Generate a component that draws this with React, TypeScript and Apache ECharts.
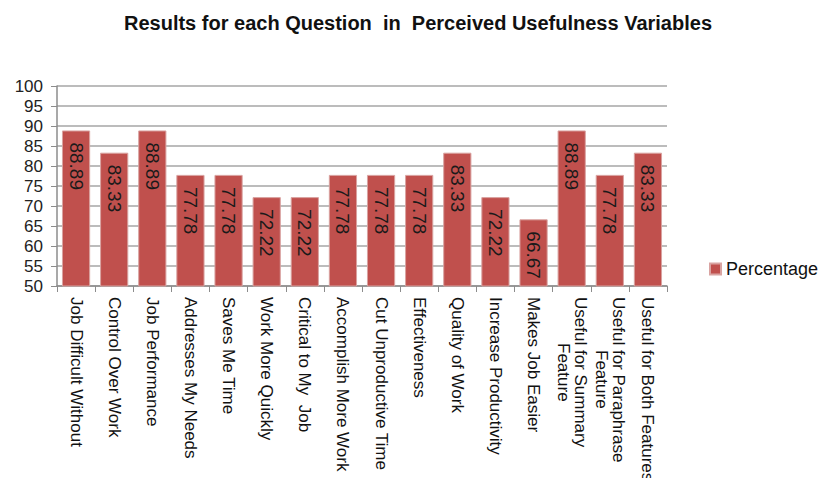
import React, { useEffect, useRef } from "react";
import * as echarts from "echarts";

const categories: string[] = [
  "Job Difficult Without",
  "Control Over Work",
  "Job Performance",
  "Addresses My Needs",
  "Saves Me Time",
  "Work More Quickly",
  "Critical to My  Job",
  "Accomplish More Work",
  "Cut Unproductive Time",
  "Effectiveness",
  "Quality of Work",
  "Increase Productivity",
  "Makes Job Easier",
  "Useful for Summary\nFeature",
  "Useful for Paraphrase\nFeature",
  "Useful for Both Features",
];

const percentage: number[] = [
  88.89, 83.33, 88.89, 77.78, 77.78, 72.22, 72.22, 77.78, 77.78, 77.78, 83.33,
  72.22, 66.67, 88.89, 77.78, 83.33,
];

const yTicks = { min: 50, max: 100, interval: 5 };

const FONT = "'Liberation Sans', Arial, sans-serif";

function measure(text: string, size: number): number {
  const c = document.createElement("canvas").getContext("2d");
  if (!c) return text.length * size * 0.5;
  c.font = `${size}px ${FONT}`;
  return c.measureText(text).width;
}

export default function App() {
  const ref = useRef<HTMLDivElement>(null);
  useEffect(() => {
    if (!ref.current) return;
    const chart = echarts.init(ref.current, undefined, { renderer: "svg" });
    const labelSize = 17;
    chart.setOption({
      animation: false,
      backgroundColor: "#ffffff",
      title: {
        text: "Results for each Question  in  Perceived Usefulness Variables",
        left: 124,
        top: 13,
        padding: 0,
        textStyle: {
          fontFamily: FONT,
          fontSize: 20,
          fontWeight: "bold",
          color: "#111",
        },
      },
      legend: {
        data: ["Percentage"],
        left: 709,
        top: 260,
        padding: 0,
        orient: "vertical",
        itemWidth: 11,
        itemHeight: 11,
        itemGap: 4,
        icon: "rect",
        textStyle: { fontFamily: FONT, fontSize: 18, color: "#111" },
      },
      grid: {
        left: 57,
        width: 610,
        top: 86,
        height: 200,
        containLabel: false,
        outerBoundsMode: "none",
      },
      xAxis: {
        type: "category",
        data: categories,
        boundaryGap: true,
        axisLine: { lineStyle: { color: "#8c8c8c", width: 1.5 } },
        axisTick: { show: true, length: 6, alignWithLabel: false, lineStyle: { color: "#8c8c8c" } },
        axisLabel: {
          interval: 0,
          rotate: -90,
          margin: 11,
          fontFamily: FONT,
          fontSize: labelSize,
          color: "#111",
          formatter: (v: string) => {
            const lines = v.split("\n");
            if (lines.length === 1) return v;
            const w = Math.max(...lines.map((l) => measure(l, labelSize)));
            return lines
              .map((l) => {
                const pad = Math.max(0, (w - measure(l, labelSize)) / 2);
                return pad > 0.5 ? `{p${Math.round(pad)}| }{t|${l}}` : `{t|${l}}`;
              })
              .join("\n");
          },
          rich: (() => {
            const r: Record<string, any> = {
              t: { fontFamily: FONT, fontSize: labelSize, color: "#111" },
            };
            for (let i = 1; i <= 120; i++) {
              r["p" + i] = { width: i, fontFamily: FONT, fontSize: labelSize };
            }
            return r;
          })(),
        },
      },
      yAxis: {
        type: "value",
        min: yTicks.min,
        max: yTicks.max,
        interval: yTicks.interval,
        axisLine: { show: true, lineStyle: { color: "#8c8c8c", width: 1.5 } },
        axisTick: { show: true, length: 6, lineStyle: { color: "#8c8c8c" } },
        axisLabel: {
          margin: 14,
          fontFamily: FONT,
          fontSize: 17,
          color: "#222",
        },
        splitLine: { show: true, lineStyle: { color: "#a6a6a6", width: 1.5 } },
      },
      series: [
        {
          name: "Percentage",
          type: "bar",
          data: percentage,
          barCategoryGap: "26%",
          itemStyle: { color: "#C0504D", borderColor: "#d9a3a1", borderWidth: 1 },
          label: {
            show: true,
            position: "insideTop",
            distance: 12,
            rotate: -90,
            align: "left",
            verticalAlign: "middle",
            fontFamily: FONT,
            fontSize: 19,
            color: "#1a1a1a",
            formatter: (p: any) => Number(p.value).toFixed(2),
          },
        },
      ],
    });
    return () => chart.dispose();
  }, []);
  return (
    <div
      ref={ref}
      style={{ position: "fixed", left: 0, top: 0, width: 821, height: 478 }}
    />
  );
}
